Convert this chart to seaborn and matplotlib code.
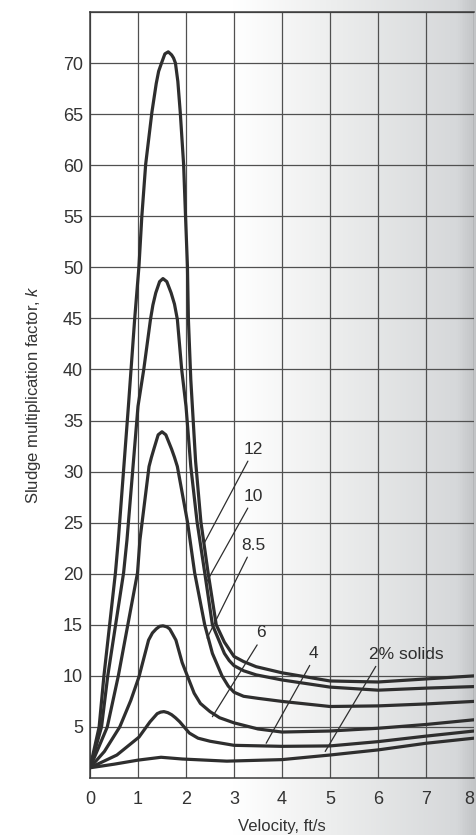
import matplotlib
matplotlib.use("Agg")
import matplotlib.pyplot as plt
import numpy as np
import pandas as pd
import seaborn as sns
from matplotlib.colors import LinearSegmentedColormap

# values: velocity (ft/s) and sludge multiplication factor k
vel_12 = [0, 0.19, 0.29, 0.53, 0.59, 0.8, 0.93, 1.02, 1.08, 1.16, 1.29, 1.38, 1.43, 1.49, 1.56,
          1.63, 1.7, 1.74, 1.78, 1.83, 1.88, 1.95, 1.99, 2.03, 2.05, 2.1, 2.2, 2.31, 2.46, 2.63,
          2.8, 3.0, 3.2, 3.46, 4.0, 5, 6, 7, 8]
k_12 = [1, 5, 10, 20.1, 23.3, 36.4, 44.9, 50.1, 55, 60.1, 65.2, 68, 69.2, 70, 70.9,
        71.1, 70.8, 70.5, 70, 68.2, 65.2, 60.1, 55, 50.1, 44.9, 39, 31, 25.1, 20.1, 15,
        13.3, 11.9, 11.4, 10.9, 10.3, 9.5, 9.4, 9.7, 10.0]

vel_10 = [0, 0.24, 0.37, 0.7, 0.77, 1.0, 1.12, 1.26, 1.31, 1.37, 1.45, 1.52, 1.6, 1.69, 1.76,
          1.82, 1.91, 2.0, 2.1, 2.23, 2.39, 2.55, 2.8, 2.9, 3.0, 3.2, 3.46, 4.0, 5, 6, 7, 8]
k_10 = [1, 5, 10, 20.1, 23.3, 36.4, 40, 44.9, 46.3, 47.5, 48.6, 48.9, 48.6, 47.5, 46.4,
        44.9, 40, 36.4, 30.5, 25.1, 20.1, 15, 12.2, 11.5, 11.0, 10.5, 10.1, 9.6, 8.9, 8.6, 8.8, 8.95]

vel_85 = [0, 0.36, 0.59, 0.99, 1.04, 1.23, 1.28, 1.33, 1.42, 1.5, 1.58, 1.7, 1.76, 1.82, 2.03,
          2.18, 2.39, 2.55, 2.75, 2.88, 3.0, 3.2, 3.5, 4.0, 5, 6, 7, 8]
k_85 = [1, 5, 10, 20.1, 23.3, 30.5, 31.4, 32.2, 33.6, 33.9, 33.6, 32.2, 31.4, 30.5, 25.1,
        20.1, 15, 12.2, 10.0, 9.0, 8.4, 8.0, 7.8, 7.5, 7.0, 7.06, 7.25, 7.5]

vel_6 = [0, 0.3, 0.62, 0.85, 1.02, 1.22, 1.3, 1.38, 1.45, 1.52, 1.6, 1.66, 1.72, 1.79, 1.92,
         2.17, 2.3, 2.5, 2.7, 3.0, 3.5, 4.0, 5, 6, 7, 8]
k_6 = [1, 2.6, 5.0, 7.6, 9.9, 13.5, 14.2, 14.6, 14.85, 14.9, 14.8, 14.6, 14.1, 13.5, 11.3,
       8.3, 7.3, 6.5, 5.9, 5.4, 4.8, 4.5, 4.6, 4.87, 5.24, 5.7]

vel_4 = [0, 0.56, 1.02, 1.25, 1.4, 1.47, 1.54, 1.62, 1.7, 1.78, 1.87, 2.07, 2.25, 2.5, 3.0,
         4.0, 5, 6, 7, 8]
k_4 = [1, 2.25, 4.0, 5.5, 6.3, 6.45, 6.5, 6.4, 6.2, 5.9, 5.5, 4.4, 3.9, 3.6, 3.2,
       3.1, 3.14, 3.56, 4.1, 4.6]

vel_2 = [0, 0.5, 1.0, 1.48, 1.92, 2.85, 4.0, 5, 6, 7, 8]
k_2 = [1, 1.35, 1.75, 2.03, 1.86, 1.65, 1.8, 2.25, 2.75, 3.4, 3.9]

curve_labels = ['12', '10', '8.5', '6', '4', '2% solids']
label_text_pos = [(3.4, 32.2), (3.4, 27.6), (3.4, 22.8), (3.57, 14.2), (4.66, 12.2), (6.6, 12.1)]
label_line_end = [(2.38, 23.0), (2.43, 19.2), (2.44, 13.7), (2.55, 6.0), (3.67, 3.4), (4.9, 2.6)]

x_ticks = [0, 1, 2, 3, 4, 5, 6, 7, 8]
y_ticks = [5, 10, 15, 20, 25, 30, 35, 40, 45, 50, 55, 60, 65, 70]

curves = [('12', vel_12, k_12), ('10', vel_10, k_10), ('8.5', vel_85, k_85),
          ('6', vel_6, k_6), ('4', vel_4, k_4), ('2', vel_2, k_2)]
data = pd.concat([pd.DataFrame({'velocity': v, 'k': k, 'solids': name}) for name, v, k in curves],
                 ignore_index=True)

sns.set_style('white')
plt.rcParams['font.family'] = ['Liberation Sans', 'DejaVu Sans']
plt.rcParams['mathtext.fontset'] = 'custom'
plt.rcParams['mathtext.it'] = 'Liberation Sans:italic'

ink = '#2e2e2e'
fig = plt.figure(figsize=(4.77, 8.35), dpi=100)

# page shading of the scan, fading to grey towards the spine
bg = fig.add_axes([0, 0, 1, 1], zorder=-1)
shade = LinearSegmentedColormap.from_list(
    'page', [(0, '#ffffff'), (0.49, '#ffffff'), (0.72, '#ebecec'), (0.96, '#d6d8da'), (1.0, '#c2c4c6')])
bg.imshow(np.linspace(0, 1, 477)[None, :], aspect='auto', cmap=shade, extent=(0, 1, 0, 1))
bg.axis('off')

ax = fig.add_axes([90 / 477, 57 / 835, 384 / 477, 766 / 835])
ax.patch.set_alpha(0)

for name, v, k in curves:
    sns.lineplot(data=data[data.solids == name], x='velocity', y='k', ax=ax, color=ink,
                 lw=2.3, sort=False, estimator=None, zorder=3)

for text, tpos, end in zip(curve_labels, label_text_pos, label_line_end):
    rel = (0.12, 0) if 'solids' in text else (0.35, 0)
    ax.annotate(text, xy=end, xytext=tpos, ha='center', va='center', fontsize=12.5, color=ink,
                arrowprops=dict(arrowstyle='-', lw=0.9, color=ink, shrinkA=1, shrinkB=0, relpos=rel),
                zorder=4)

ax.set_xlim(0, 8)
ax.set_ylim(0, 75)
ax.set_xticks(x_ticks)
ax.set_yticks(y_ticks)
ax.set_yticks([75], minor=True)
ax.grid(True, which='both', color='#505050', lw=0.9)
ax.tick_params(length=0, labelsize=13, labelcolor='#333333')
ax.tick_params(axis='x', pad=9)
ax.tick_params(axis='y', pad=5)
# keep the last tick label inside the page edge
ax.get_xticklabels()[-1].set_horizontalalignment('right')

for side in ['left', 'bottom', 'top']:
    ax.spines[side].set_visible(True)
    ax.spines[side].set_color('#3a3a3a')
    ax.spines[side].set_linewidth(1.1)
ax.spines['right'].set_visible(False)

ax.set_xlabel('Velocity, ft/s', fontsize=12, color='#333333', labelpad=8)
ax.set_ylabel('Sludge multiplication factor, $k$', fontsize=12, color='#333333', labelpad=14)

plt.savefig('out.png', dpi=100)
plt.close('all')
